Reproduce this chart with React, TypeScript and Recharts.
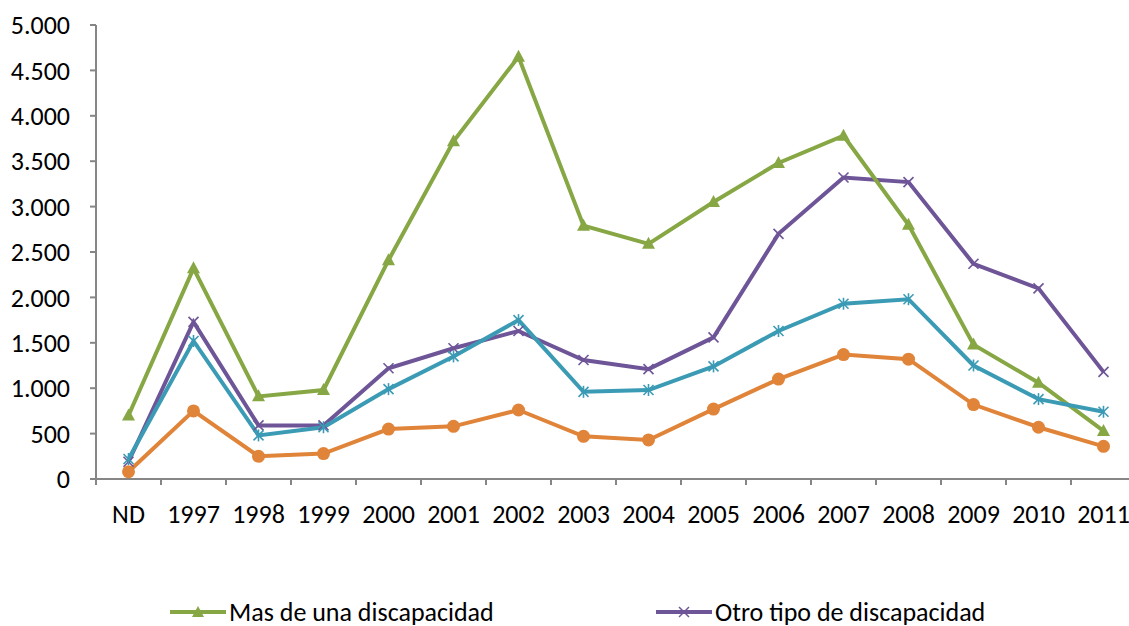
import React from "react";
import { LineChart, Line, XAxis, YAxis, Legend } from "recharts";

const years = ["ND", "1997", "1998", "1999", "2000", "2001", "2002", "2003", "2004", "2005", "2006", "2007", "2008", "2009", "2010", "2011"];
const masDeUna = [700, 2320, 910, 980, 2410, 3720, 4650, 2790, 2590, 3050, 3480, 3780, 2800, 1480, 1060, 530];
const otroTipo = [190, 1730, 590, 590, 1220, 1440, 1630, 1310, 1210, 1560, 2700, 3320, 3270, 2370, 2100, 1180];
const serieAzul = [220, 1520, 480, 570, 990, 1350, 1750, 960, 980, 1240, 1630, 1930, 1980, 1250, 880, 740];
const serieNaranja = [80, 750, 250, 280, 550, 580, 760, 470, 430, 770, 1100, 1370, 1320, 820, 570, 360];
const yTicks = [0, 500, 1000, 1500, 2000, 2500, 3000, 3500, 4000, 4500, 5000];

const data = years.map((y, i) => ({
  year: y,
  mas: masDeUna[i],
  otro: otroTipo[i],
  azul: serieAzul[i],
  naranja: serieNaranja[i],
}));

const GREEN = "#86A744";
const PURPLE = "#6E5597";
const TEAL = "#3B9BB5";
const ORANGE = "#E0843A";
const AXIS = "#868686";
const FONT = "Carlito, 'Liberation Sans Narrow', 'Open Sans', sans-serif";
const FS = 26;

const CHART_W = 1138;
const CHART_H = 626;
const MARGIN_L = 16;
const MARGIN_R = 2;
const Y_W = 80;
const BAND = (CHART_W - MARGIN_L - MARGIN_R - Y_W) / years.length;

const fmt = (v: number) => String(v).replace(/\B(?=(\d{3})+(?!\d))/g, ".");

const Triangle = (p: any) => (
  <polygon
    key={`t${p.index}`}
    points={`${p.cx},${p.cy - 7} ${p.cx - 6.5},${p.cy + 5} ${p.cx + 6.5},${p.cy + 5}`}
    fill={GREEN}
  />
);

const Cross = (p: any) => (
  <g key={`x${p.index}`} stroke={PURPLE} strokeWidth={1.6}>
    <line x1={p.cx - 5} y1={p.cy - 5} x2={p.cx + 5} y2={p.cy + 5} />
    <line x1={p.cx - 5} y1={p.cy + 5} x2={p.cx + 5} y2={p.cy - 5} />
  </g>
);

const Star = (p: any) => (
  <g key={`s${p.index}`} stroke={TEAL} strokeWidth={1.6}>
    <line x1={p.cx - 5} y1={p.cy - 5} x2={p.cx + 5} y2={p.cy + 5} />
    <line x1={p.cx - 5} y1={p.cy + 5} x2={p.cx + 5} y2={p.cy - 5} />
    <line x1={p.cx} y1={p.cy - 6} x2={p.cx} y2={p.cy + 6} />
  </g>
);

const Dot = (p: any) => <circle key={`c${p.index}`} cx={p.cx} cy={p.cy} r={6.5} fill={ORANGE} />;

const XTick = (p: any) => {
  const { x, y, payload } = p;
  return (
    <g>
      <line x1={x - BAND / 2} y1={y - 6} x2={x - BAND / 2} y2={y} stroke={AXIS} strokeWidth={2} />
      <text x={x} y={y + 20} dy="0.71em" textAnchor="middle" fill="#000" fontSize={FS} fontFamily={FONT}>
        {payload.value}
      </text>
    </g>
  );
};

const legendItems = [
  { label: "Mas de una discapacidad", color: GREEN, marker: "tri" },
  { label: "Otro tipo de discapacidad", color: PURPLE, marker: "x" },
];

const LegendContent = () => (
  <div style={{ position: "relative", height: 28, fontFamily: FONT, fontSize: FS, lineHeight: "26px", color: "#000" }}>
    {legendItems.map((it, i) => (
      <div
        key={it.label}
        style={{ position: "absolute", left: i === 0 ? 170 : 656, top: 0, display: "flex", alignItems: "center", height: 28, whiteSpace: "nowrap" }}
      >
        <svg width={56} height={16} style={{ marginRight: 3 }}>
          <line x1={0} y1={8} x2={56} y2={8} stroke={it.color} strokeWidth={4} />
          {it.marker === "tri" ? (
            <polygon points="28,2 22,13 34,13" fill={it.color} />
          ) : (
            <g stroke={it.color} strokeWidth={1.5}>
              <line x1={23} y1={3} x2={33} y2={13} />
              <line x1={23} y1={13} x2={33} y2={3} />
            </g>
          )}
        </svg>
        <span>{it.label}</span>
      </div>
    ))}
  </div>
);

export default function App() {
  return (
    <div style={{ position: "fixed", top: 0, left: 0, width: 1129, height: 626, overflow: "hidden", background: "#fff" }}>
      <LineChart
        width={CHART_W}
        height={CHART_H}
        data={data}
        margin={{ top: 25, right: MARGIN_R, left: MARGIN_L, bottom: 79 }}
      >
        <XAxis
          dataKey="year"
          padding={{ left: BAND / 2, right: BAND / 2 }}
          axisLine={{ stroke: AXIS, strokeWidth: 2 }}
          tickLine={false}
          tickSize={6}
          tickMargin={0}
          height={40}
          interval={0}
          tick={<XTick />}
        />
        <YAxis
          width={Y_W}
          domain={[0, 5000]}
          ticks={yTicks}
          interval={0}
          axisLine={{ stroke: AXIS, strokeWidth: 2 }}
          tickLine={{ stroke: AXIS, strokeWidth: 2 }}
          tickSize={6}
          tickMargin={20}
          tick={{ fill: "#000", fontSize: FS, fontFamily: FONT }}
          tickFormatter={(v) => fmt(Number(v))}
        />
        <Legend verticalAlign="bottom" height={28} wrapperStyle={{ top: 598, left: 0, width: CHART_W }} content={<LegendContent />} />
        <Line dataKey="otro" name="Otro tipo de discapacidad" stroke={PURPLE} strokeWidth={4} dot={Cross} activeDot={false} isAnimationActive={false} />
        <Line dataKey="mas" name="Mas de una discapacidad" stroke={GREEN} strokeWidth={4} dot={Triangle} activeDot={false} isAnimationActive={false} />
        <Line dataKey="azul" name="Serie 3" stroke={TEAL} strokeWidth={4} dot={Star} activeDot={false} isAnimationActive={false} legendType="none" />
        <Line dataKey="naranja" name="Serie 4" stroke={ORANGE} strokeWidth={4} dot={Dot} activeDot={false} isAnimationActive={false} legendType="none" />
      </LineChart>
    </div>
  );
}
